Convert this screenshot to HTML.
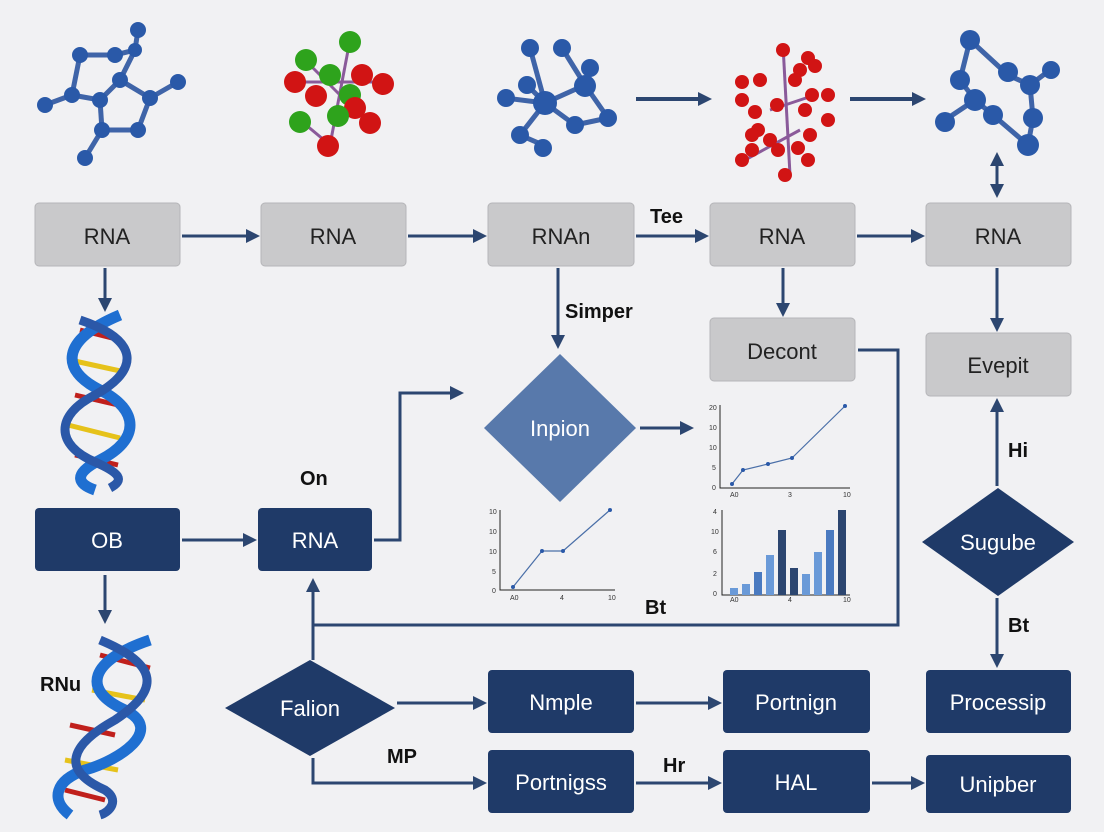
<!DOCTYPE html>
<html><head><meta charset="utf-8"><style>
html,body{margin:0;padding:0;background:#f1f1f3;}
svg{display:block;font-family:"Liberation Sans",sans-serif;}
.g{fill:#c9c9cb;stroke:#b5b5b8;stroke-width:1}
.n{fill:#1f3a68}
.tg{font-size:22px;fill:#222;text-anchor:middle;font-weight:500}
.tn{font-size:22px;fill:#fff;text-anchor:middle}
.lb{font-size:20px;fill:#111;font-weight:600}
.ln{stroke:#2c4670;stroke-width:3;fill:none}
.b{fill:#2a59a8}.r{fill:#d11414}.gr{fill:#2ea31c}
.bd{stroke:#3f64a8;stroke-width:5}
.rd{stroke:#8a5a9a;stroke-width:3}
.ax{font-size:7px;fill:#333}
</style></head><body>
<svg width="1104" height="832" viewBox="0 0 1104 832">
<defs>
<marker id="a" markerWidth="10" markerHeight="10" refX="6" refY="5" orient="auto" markerUnits="userSpaceOnUse"><path d="M0,0 L10,5 L0,10 z" fill="#2c4670"/></marker>
<marker id="as" markerWidth="14" markerHeight="14" refX="10" refY="7" orient="auto" markerUnits="userSpaceOnUse"><path d="M0,0 L14,7 L0,14 z" fill="#2c4670"/></marker>
<marker id="asr" markerWidth="14" markerHeight="14" refX="4" refY="7" orient="auto-start-reverse" markerUnits="userSpaceOnUse"><path d="M0,0 L14,7 L0,14 z" fill="#2c4670"/></marker>
</defs>

<!-- molecule 1 -->
<g class="bd">
<line x1="135" y1="50" x2="115" y2="55"/><line x1="135" y1="50" x2="120" y2="80"/><line x1="115" y1="55" x2="80" y2="55"/><line x1="80" y1="55" x2="72" y2="95"/><line x1="72" y1="95" x2="45" y2="105"/><line x1="72" y1="95" x2="100" y2="100"/><line x1="120" y1="80" x2="150" y2="98"/><line x1="150" y1="98" x2="178" y2="82"/><line x1="100" y1="100" x2="102" y2="130"/><line x1="150" y1="98" x2="138" y2="130"/><line x1="102" y1="130" x2="138" y2="130"/><line x1="102" y1="130" x2="85" y2="158"/><line x1="120" y1="80" x2="100" y2="100"/><line x1="135" y1="50" x2="138" y2="30"/>
</g>
<g class="b"><circle cx="138" cy="30" r="8"/><circle cx="115" cy="55" r="8"/><circle cx="80" cy="55" r="8"/><circle cx="120" cy="80" r="8"/><circle cx="72" cy="95" r="8"/><circle cx="100" cy="100" r="8"/><circle cx="45" cy="105" r="8"/><circle cx="178" cy="82" r="8"/><circle cx="150" cy="98" r="8"/><circle cx="102" cy="130" r="8"/><circle cx="138" cy="130" r="8"/><circle cx="85" cy="158" r="8"/><circle cx="135" cy="50" r="7"/></g>

<!-- molecule 2 -->
<g class="rd"><line x1="350" y1="40" x2="330" y2="145"/><line x1="305" y1="60" x2="370" y2="125"/><line x1="300" y1="120" x2="330" y2="145"/><line x1="295" y1="82" x2="385" y2="82"/></g>
<g><circle class="gr" cx="350" cy="42" r="11"/><circle class="gr" cx="306" cy="60" r="11"/><circle class="r" cx="295" cy="82" r="11"/><circle class="gr" cx="330" cy="75" r="11"/><circle class="r" cx="362" cy="75" r="11"/><circle class="r" cx="383" cy="84" r="11"/><circle class="r" cx="316" cy="96" r="11"/><circle class="gr" cx="350" cy="95" r="11"/><circle class="r" cx="355" cy="108" r="11"/><circle class="gr" cx="300" cy="122" r="11"/><circle class="gr" cx="338" cy="116" r="11"/><circle class="r" cx="370" cy="123" r="11"/><circle class="r" cx="328" cy="146" r="11"/></g>

<!-- molecule 3 -->
<g class="bd"><line x1="530" y1="48" x2="545" y2="103"/><line x1="562" y1="48" x2="585" y2="85"/><line x1="545" y1="103" x2="585" y2="85"/><line x1="585" y1="85" x2="608" y2="118"/><line x1="545" y1="103" x2="575" y2="125"/><line x1="575" y1="125" x2="608" y2="118"/><line x1="505" y1="98" x2="545" y2="103"/><line x1="545" y1="103" x2="520" y2="135"/><line x1="520" y1="135" x2="543" y2="145"/><line x1="527" y1="85" x2="545" y2="103"/></g>
<g class="b"><circle cx="530" cy="48" r="9"/><circle cx="562" cy="48" r="9"/><circle cx="590" cy="68" r="9"/><circle cx="527" cy="85" r="9"/><circle cx="506" cy="98" r="9"/><circle cx="545" cy="103" r="12"/><circle cx="585" cy="86" r="11"/><circle cx="608" cy="118" r="9"/><circle cx="575" cy="125" r="9"/><circle cx="520" cy="135" r="9"/><circle cx="543" cy="148" r="9"/></g>

<line class="ln" x1="636" y1="99" x2="708" y2="99" marker-end="url(#as)" style="stroke-width:4"/>
<line class="ln" x1="850" y1="99" x2="922" y2="99" marker-end="url(#as)" style="stroke-width:4"/>

<!-- molecule 4 red -->
<g class="rd"><line x1="783" y1="45" x2="790" y2="175"/><line x1="770" y1="110" x2="815" y2="95"/><line x1="745" y1="160" x2="800" y2="130"/></g>
<g class="r"><circle cx="783" cy="50" r="7"/><circle cx="808" cy="58" r="7"/><circle cx="815" cy="66" r="7"/><circle cx="800" cy="70" r="7"/><circle cx="777" cy="105" r="7"/><circle cx="805" cy="110" r="7"/><circle cx="795" cy="80" r="7"/><circle cx="778" cy="150" r="7"/><circle cx="742" cy="160" r="7"/><circle cx="752" cy="150" r="7"/><circle cx="742" cy="82" r="7"/><circle cx="760" cy="80" r="7"/><circle cx="742" cy="100" r="7"/><circle cx="755" cy="112" r="7"/><circle cx="810" cy="135" r="7"/><circle cx="828" cy="120" r="7"/><circle cx="812" cy="95" r="7"/><circle cx="828" cy="95" r="7"/><circle cx="758" cy="130" r="7"/><circle cx="798" cy="148" r="7"/><circle cx="752" cy="135" r="7"/><circle cx="785" cy="175" r="7"/><circle cx="770" cy="140" r="7"/><circle cx="808" cy="160" r="7"/></g>

<!-- molecule 5 -->
<g class="bd"><line x1="970" y1="40" x2="1008" y2="75"/><line x1="970" y1="40" x2="960" y2="80"/><line x1="960" y1="80" x2="975" y2="100"/><line x1="975" y1="100" x2="945" y2="120"/><line x1="975" y1="100" x2="993" y2="115"/><line x1="993" y1="115" x2="1028" y2="145"/><line x1="1008" y1="75" x2="1030" y2="85"/><line x1="1030" y1="85" x2="1050" y2="70"/><line x1="1030" y1="85" x2="1033" y2="118"/><line x1="1033" y1="118" x2="1028" y2="145"/></g>
<g class="b"><circle cx="970" cy="40" r="10"/><circle cx="960" cy="80" r="10"/><circle cx="1008" cy="72" r="10"/><circle cx="1030" cy="85" r="10"/><circle cx="1051" cy="70" r="9"/><circle cx="975" cy="100" r="11"/><circle cx="945" cy="122" r="10"/><circle cx="993" cy="115" r="10"/><circle cx="1033" cy="118" r="10"/><circle cx="1028" cy="145" r="11"/></g>
<line class="ln" x1="997" y1="162" x2="997" y2="194" marker-start="url(#asr)" marker-end="url(#as)"/>

<!-- row 1 boxes -->
<rect class="g" x="35" y="203" width="145" height="63" rx="4"/><text class="tg" x="107" y="244">RNA</text>
<rect class="g" x="261" y="203" width="145" height="63" rx="4"/><text class="tg" x="333" y="244">RNA</text>
<rect class="g" x="488" y="203" width="146" height="63" rx="4"/><text class="tg" x="561" y="244">RNAn</text>
<rect class="g" x="710" y="203" width="145" height="63" rx="4"/><text class="tg" x="782" y="244">RNA</text>
<rect class="g" x="926" y="203" width="145" height="63" rx="4"/><text class="tg" x="998" y="244">RNA</text>
<line class="ln" x1="182" y1="236" x2="256" y2="236" marker-end="url(#as)"/>
<line class="ln" x1="408" y1="236" x2="483" y2="236" marker-end="url(#as)"/>
<line class="ln" x1="636" y1="236" x2="705" y2="236" marker-end="url(#as)"/>
<line class="ln" x1="857" y1="236" x2="921" y2="236" marker-end="url(#as)"/>
<text class="lb" x="650" y="223">Tee</text>

<!-- helix 1 -->
<line class="ln" x1="105" y1="268" x2="105" y2="308" marker-end="url(#as)"/>
<g stroke-width="5">
<line x1="80" y1="330" x2="120" y2="340" stroke="#c0201c"/><line x1="70" y1="360" x2="125" y2="372" stroke="#e6c21a"/><line x1="75" y1="395" x2="118" y2="405" stroke="#c0201c"/><line x1="68" y1="425" x2="120" y2="438" stroke="#e6c21a"/><line x1="75" y1="455" x2="118" y2="465" stroke="#c0201c"/>
</g>
<path d="M120,315 C60,340 60,370 100,390 C140,410 140,440 100,460 C70,475 80,485 95,490" fill="none" stroke="#1f6fd1" stroke-width="11"/>
<path d="M80,320 C140,340 140,370 95,395 C55,415 55,445 95,462 C120,473 125,480 110,488" fill="none" stroke="#2b58a8" stroke-width="9"/>

<!-- Simper -->
<line class="ln" x1="558" y1="268" x2="558" y2="345" marker-end="url(#as)"/>
<text class="lb" x="565" y="318">Simper</text>
<polygon points="560,354 636,428 560,502 484,428" fill="#5879ab"/>
<text x="560" y="436" font-size="22" fill="#fff" text-anchor="middle">Inpion</text>
<line class="ln" x1="640" y1="428" x2="690" y2="428" marker-end="url(#as)"/>

<!-- Decont -->
<line class="ln" x1="783" y1="268" x2="783" y2="313" marker-end="url(#as)"/>
<rect class="g" x="710" y="318" width="145" height="63" rx="4"/><text class="tg" x="782" y="359">Decont</text>
<polyline class="ln" points="858,350 898,350 898,625 313,625"/>
<line class="ln" x1="313" y1="660" x2="313" y2="582" marker-end="url(#as)"/>
<text class="lb" x="645" y="614">Bt</text>

<!-- right column -->
<line class="ln" x1="997" y1="268" x2="997" y2="328" marker-end="url(#as)"/>
<rect class="g" x="926" y="333" width="145" height="63" rx="4"/><text class="tg" x="998" y="373">Evepit</text>
<line class="ln" x1="997" y1="486" x2="997" y2="402" marker-end="url(#as)"/>
<text class="lb" x="1008" y="457">Hi</text>
<polygon points="998,488 1074,542 998,596 922,542" class="n"/>
<text class="tn" x="998" y="550">Sugube</text>
<line class="ln" x1="997" y1="598" x2="997" y2="664" marker-end="url(#as)"/>
<text class="lb" x="1008" y="632">Bt</text>
<rect class="n" x="926" y="670" width="145" height="63" rx="4"/><text class="tn" x="998" y="710">Processip</text>

<!-- OB row -->
<rect class="n" x="35" y="508" width="145" height="63" rx="4"/><text class="tn" x="107" y="548">OB</text>
<line class="ln" x1="182" y1="540" x2="253" y2="540" marker-end="url(#as)"/>
<rect class="n" x="258" y="508" width="114" height="63" rx="4"/><text class="tn" x="315" y="548">RNA</text>
<text class="lb" x="300" y="485">On</text>
<polyline class="ln" points="374,540 400,540 400,393 460,393" marker-end="url(#as)"/>

<!-- charts -->
<g stroke="#222" stroke-width="1" fill="none"><polyline points="720,405 720,488 850,488"/><polyline points="500,510 500,590 615,590"/><polyline points="722,510 722,595 850,595"/></g>
<polyline points="732,484 743,470 768,464 792,458 845,406" fill="none" stroke="#4a6fa8" stroke-width="1.2"/>
<g fill="#2a59a8"><circle cx="732" cy="484" r="2"/><circle cx="743" cy="470" r="2"/><circle cx="768" cy="464" r="2"/><circle cx="792" cy="458" r="2"/><circle cx="845" cy="406" r="2"/></g>
<polyline points="513,587 542,551 563,551 610,510" fill="none" stroke="#4a6fa8" stroke-width="1.2"/>
<g fill="#2a59a8"><circle cx="513" cy="587" r="2"/><circle cx="542" cy="551" r="2"/><circle cx="563" cy="551" r="2"/><circle cx="610" cy="510" r="2"/></g>
<g><rect x="730" y="588" width="8" height="7" fill="#6a9ad8"/><rect x="742" y="584" width="8" height="11" fill="#6a9ad8"/><rect x="754" y="572" width="8" height="23" fill="#4a7ac0"/><rect x="766" y="555" width="8" height="40" fill="#6a9ad8"/><rect x="778" y="530" width="8" height="65" fill="#2c4670"/><rect x="790" y="568" width="8" height="27" fill="#2c4670"/><rect x="802" y="574" width="8" height="21" fill="#6a9ad8"/><rect x="814" y="552" width="8" height="43" fill="#6a9ad8"/><rect x="826" y="530" width="8" height="65" fill="#4a7ac0"/><rect x="838" y="510" width="8" height="85" fill="#2c4670"/></g>
<g class="ax"><text x="709" y="410">20</text><text x="709" y="430">10</text><text x="709" y="450">10</text><text x="712" y="470">5</text><text x="712" y="490">0</text><text x="730" y="497">A0</text><text x="788" y="497">3</text><text x="843" y="497">10</text>
<text x="489" y="514">10</text><text x="489" y="534">10</text><text x="489" y="554">10</text><text x="492" y="574">5</text><text x="492" y="593">0</text><text x="510" y="600">A0</text><text x="560" y="600">4</text><text x="608" y="600">10</text>
<text x="713" y="514">4</text><text x="711" y="534">10</text><text x="713" y="554">6</text><text x="713" y="576">2</text><text x="713" y="596">0</text><text x="730" y="602">A0</text><text x="788" y="602">4</text><text x="843" y="602">10</text></g>

<!-- helix 2 -->
<line class="ln" x1="105" y1="575" x2="105" y2="620" marker-end="url(#as)"/>
<text class="lb" x="40" y="691" font-weight="500">RNu</text>
<g stroke-width="5">
<line x1="100" y1="655" x2="150" y2="668" stroke="#c0201c"/><line x1="92" y1="690" x2="145" y2="700" stroke="#e6c21a"/><line x1="70" y1="725" x2="115" y2="735" stroke="#c0201c"/><line x1="65" y1="760" x2="118" y2="770" stroke="#e6c21a"/><line x1="65" y1="790" x2="105" y2="800" stroke="#c0201c"/>
</g>
<path d="M150,640 C90,660 80,690 125,710 C165,730 120,760 85,770 C55,780 50,800 70,815" fill="none" stroke="#1f6fd1" stroke-width="11"/>
<path d="M100,640 C160,665 160,690 115,720 C70,745 60,770 105,790 C120,800 110,812 100,815" fill="none" stroke="#2b58a8" stroke-width="9"/>

<!-- bottom -->
<polygon points="310,660 395,708 310,756 225,708" class="n"/>
<text class="tn" x="310" y="716">Falion</text>
<line class="ln" x1="397" y1="703" x2="483" y2="703" marker-end="url(#as)"/>
<rect class="n" x="488" y="670" width="146" height="63" rx="4"/><text class="tn" x="561" y="710">Nmple</text>
<line class="ln" x1="636" y1="703" x2="718" y2="703" marker-end="url(#as)"/>
<rect class="n" x="723" y="670" width="147" height="63" rx="4"/><text class="tn" x="796" y="710">Portnign</text>
<polyline class="ln" points="313,758 313,783 483,783" marker-end="url(#as)"/>
<text class="lb" x="387" y="763" font-weight="500">MP</text>
<rect class="n" x="488" y="750" width="146" height="63" rx="4"/><text class="tn" x="561" y="790">Portnigss</text>
<line class="ln" x1="636" y1="783" x2="718" y2="783" marker-end="url(#as)"/>
<text class="lb" x="663" y="772" font-weight="500">Hr</text>
<rect class="n" x="723" y="750" width="147" height="63" rx="4"/><text class="tn" x="796" y="790">HAL</text>
<line class="ln" x1="872" y1="783" x2="921" y2="783" marker-end="url(#as)"/>
<rect class="n" x="926" y="755" width="145" height="58" rx="4"/><text class="tn" x="998" y="792">Unipber</text>
</svg>
</body></html>
